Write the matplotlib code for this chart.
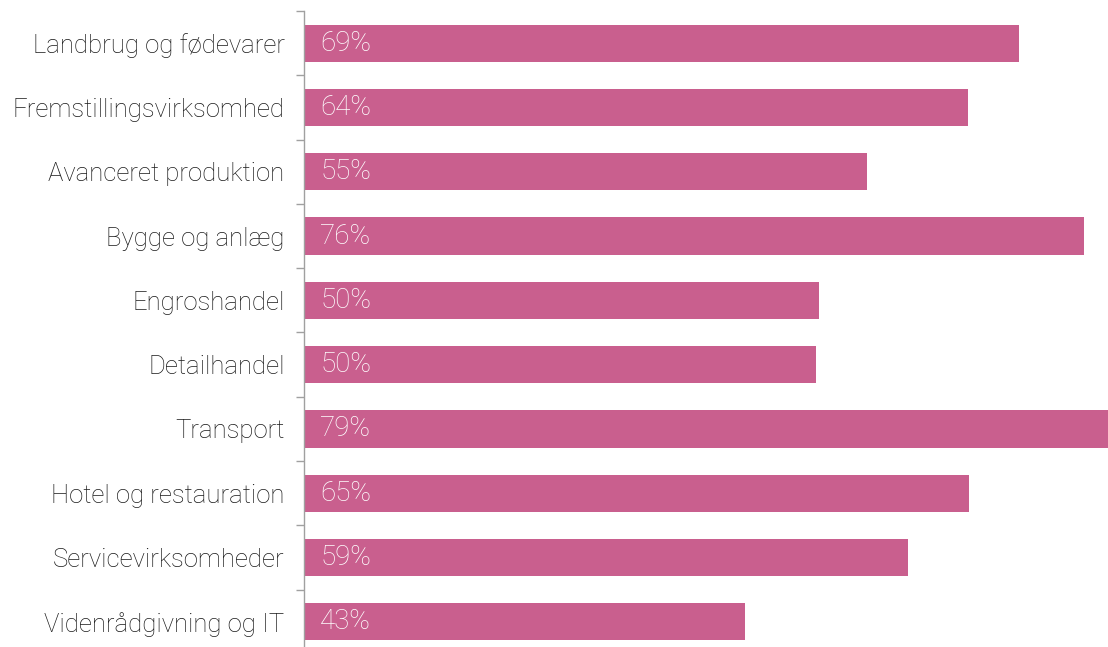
import matplotlib.pyplot as plt

# Categories, values and printed labels
categories = ['Landbrug og fødevarer', 'Fremstillingsvirksomhed', 'Avanceret produktion',
              'Bygge og anlæg', 'Engroshandel', 'Detailhandel', 'Transport',
              'Hotel og restauration', 'Servicevirksomheder', 'Videnrådgivning og IT']
values = [69.6, 64.7, 54.8, 76.0, 50.2, 49.9, 79.0, 64.8, 58.8, 42.9]
value_labels = ['69%', '64%', '55%', '76%', '50%', '50%', '79%', '65%', '59%', '43%']

BAR_COLOR = '#C95F8E'
AXIS_COLOR = '#A0A0A0'

plt.rcParams['font.family'] = ['Roboto', 'DejaVu Sans']

fig = plt.figure(figsize=(11.08, 6.47), dpi=100)
ax = fig.add_axes([304 / 1108, -7 / 647, 1 - 304 / 1108, 643 / 647])

ypos = list(range(len(categories)))
ax.barh(ypos, values, height=0.58, color=BAR_COLOR)
ax.set_ylim(len(categories) - 0.5, -0.5)
ax.set_xlim(0, 78.3)

# category labels at bar centres, ticks at category boundaries
ax.set_yticks(ypos)
ax.set_yticklabels(categories, fontsize=18.5, fontweight='light', color='#1a1a1a')
ax.tick_params(axis='y', which='major', length=0, pad=14)
ax.set_yticks([i - 0.5 for i in range(len(categories) + 1)], minor=True)
ax.tick_params(axis='y', which='minor', length=6, width=1, color=AXIS_COLOR)

for y, lab in zip(ypos, value_labels):
    ax.text(1.6, y, lab, color='white', fontsize=20, fontweight='light',
            va='center', ha='left')

ax.set_xticks([])
for side in ['top', 'right', 'bottom']:
    ax.spines[side].set_visible(False)
ax.spines['left'].set_color(AXIS_COLOR)
ax.spines['left'].set_linewidth(1)

fig.savefig('out.png', dpi=100)
